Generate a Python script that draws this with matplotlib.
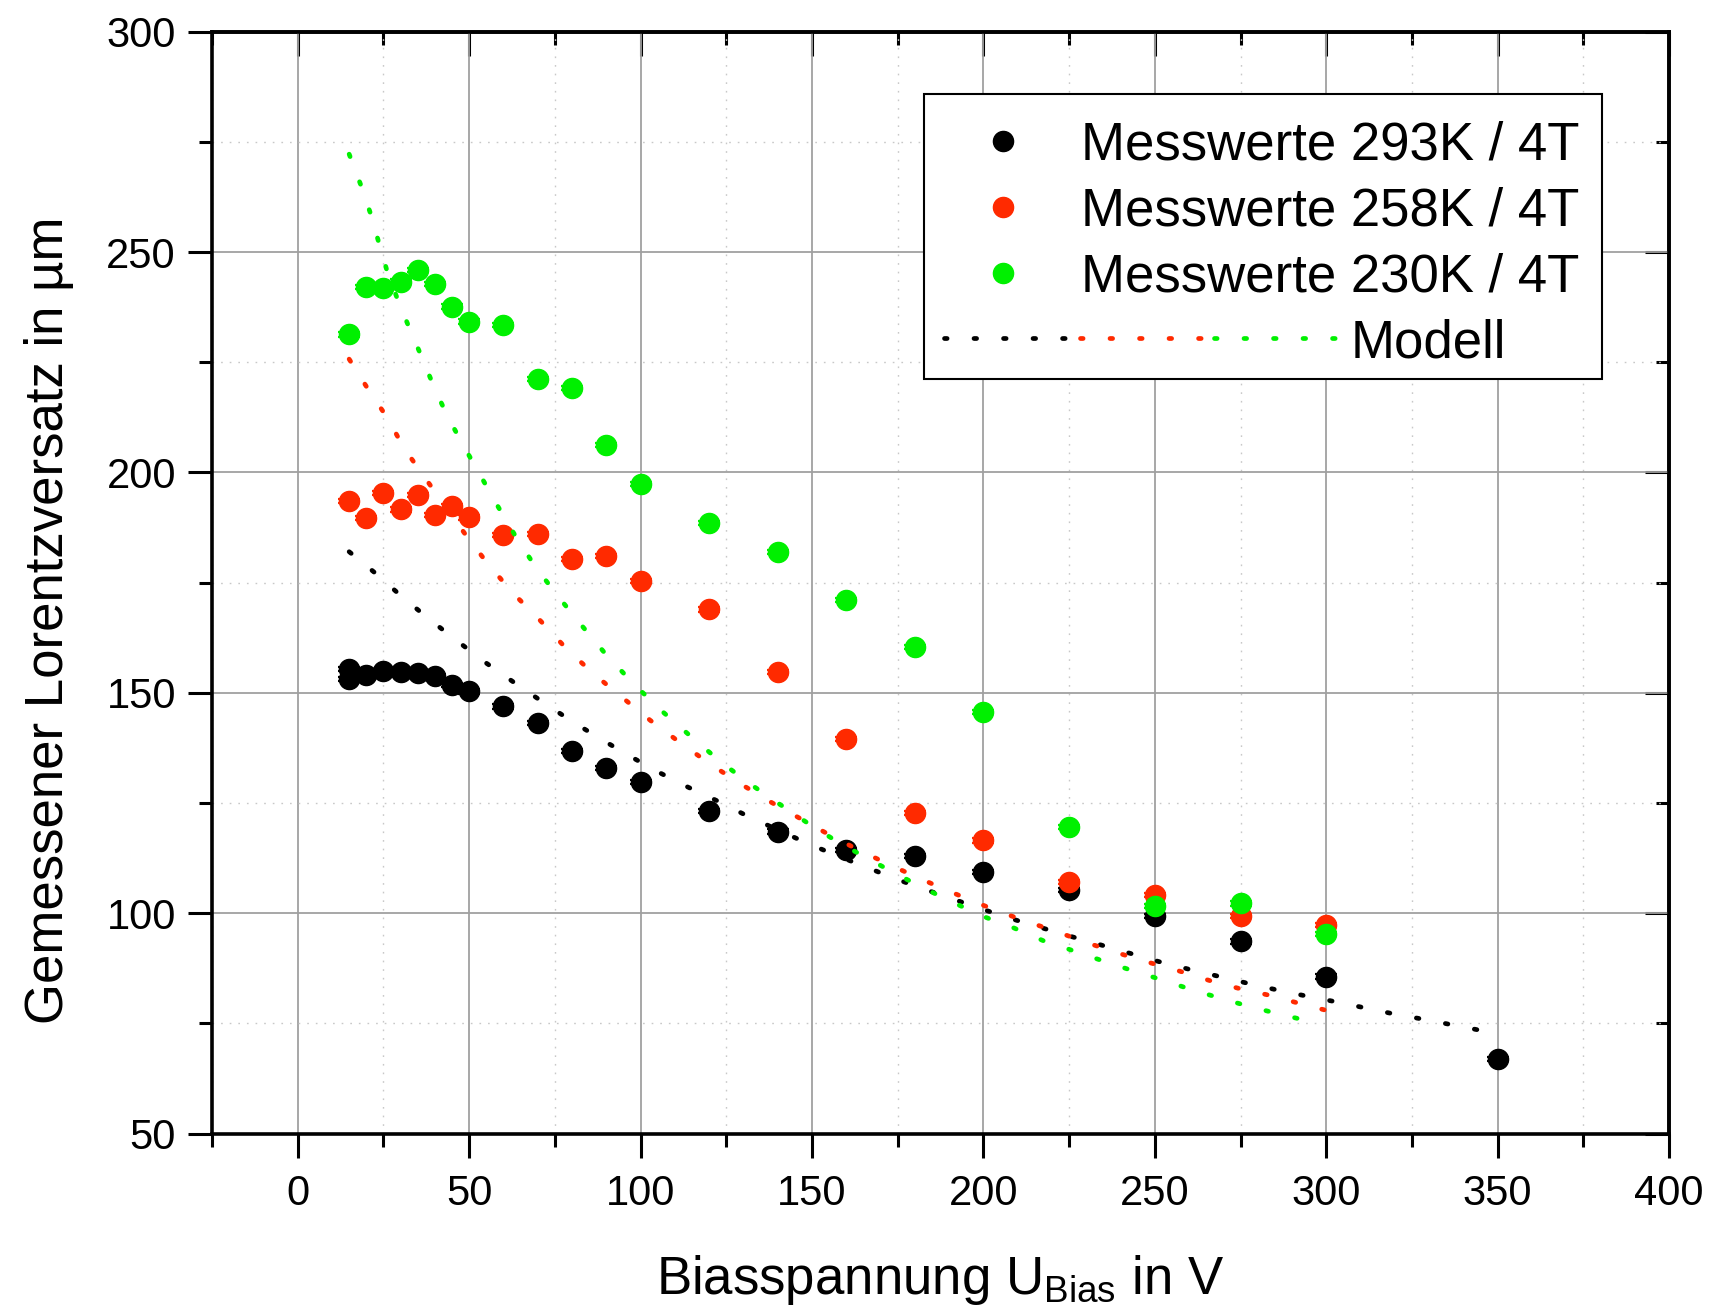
import matplotlib
matplotlib.use("Agg")
import matplotlib.pyplot as plt
from matplotlib.patches import Rectangle
from matplotlib.ticker import MultipleLocator, NullFormatter

plt.rcParams["font.family"] = ["Liberation Sans", "DejaVu Sans"]
plt.rcParams["mathtext.fontset"] = "custom"
plt.rcParams["mathtext.rm"] = "Liberation Sans"
plt.rcParams["mathtext.it"] = "Liberation Sans:italic"

BLACK, RED, GREEN = "#000000", "#ff2a00", "#00f000"

# measured Lorentz displacement (um) vs bias voltage (V)
u_293 = [15, 15, 20, 25, 30, 35, 40, 45, 50, 60, 70, 80, 90, 100, 120, 140, 160, 180, 200, 225, 250, 275, 300, 350]
d_293 = [155.4, 153.1, 154.0, 155.0, 154.7, 154.4, 153.7, 151.8, 150.3, 146.9, 143.1, 136.8, 132.9, 129.8,
         123.2, 118.5, 114.3, 113.0, 109.3, 105.3, 99.4, 93.6, 85.6, 66.9]

u_258 = [15, 20, 25, 30, 35, 40, 45, 50, 60, 70, 80, 90, 100, 120, 140, 160, 180, 200, 225, 250, 275, 300]
d_258 = [193.5, 189.7, 195.3, 191.6, 194.9, 190.3, 192.4, 189.8, 185.8, 186.0, 180.4, 181.0, 175.4, 168.9,
         154.7, 139.5, 122.7, 116.5, 107.1, 104.1, 99.4, 97.3]

u_230 = [15, 20, 25, 30, 35, 40, 45, 50, 60, 70, 80, 90, 100, 120, 140, 160, 180, 200, 225, 250, 275, 300]
d_230 = [231.3, 242.0, 241.8, 243.3, 245.9, 242.8, 237.6, 234.2, 233.5, 221.2, 219.2, 206.2, 197.3, 188.5,
         182.0, 171.0, 160.4, 145.6, 119.6, 101.6, 102.2, 95.3]

YERR = 0.5

# model curves
mu_293 = [15, 22.7, 30.4, 38.2, 46.1, 54.5, 62.8, 71.3, 79.8, 88.0, 96.7, 105.2, 113.8, 122.3, 131.0, 148.2,
          156.8, 165.3, 174.0, 182.5, 191.1, 199.7, 208.3, 216.9, 225.6, 234.2, 242.7, 251.2, 259.8, 268.4,
          277.0, 285.5, 294.1, 302.7, 311.3, 319.9, 328.5, 337.1, 345.7]
md_293 = [182.0, 177.1, 171.8, 166.8, 162.0, 157.0, 152.5, 148.0, 143.6, 139.7, 135.7, 132.0, 128.6, 125.5,
          122.1, 116.0, 113.2, 110.6, 107.9, 105.5, 103.2, 100.9, 98.7, 96.7, 94.7, 92.8, 90.9, 89.0, 87.3,
          85.7, 84.1, 82.6, 81.2, 79.9, 78.5, 77.1, 75.9, 74.6, 73.3]

mu_258 = [15, 20.5, 26.2, 31.0, 37.0, 49.2, 55.5, 62.8, 70.6, 78.5, 86.3, 94.4, 102.9, 111.5, 120.0, 128.6,
          137.3, 145.8, 154.3, 162.9, 171.5, 180.2, 188.7, 197.3, 205.8, 214.6, 223.1, 231.7, 240.3, 248.8,
          257.4, 266.0, 274.6, 283.2, 291.8, 300.2]
md_258 = [225.7, 218.9, 212.3, 205.5, 198.9, 185.6, 179.2, 172.6, 166.5, 159.9, 154.3, 149.1, 143.7, 138.7,
          134.0, 129.6, 125.5, 121.8, 118.1, 114.6, 111.4, 108.3, 105.4, 102.6, 100.0, 97.6, 95.3, 92.9,
          90.7, 88.7, 86.8, 84.7, 82.9, 81.4, 79.6, 77.9]

mu_230 = [15, 18.3, 21.2, 23.7, 26.2, 29.4, 32.9, 36.6, 40.1, 44.1, 48.9, 53.8, 58.6, 63.7, 69.4, 75.9, 82.9,
          90.0, 98.0, 106.0, 114.5, 123.1, 131.6, 140.4, 149.0, 157.4, 166.0, 174.8, 183.3, 191.8, 200.5,
          209.0, 217.6, 226.1, 234.7, 243.3, 251.9, 260.5, 269.1, 277.7, 286.3, 294.9]
md_230 = [272.2, 265.4, 258.8, 252.0, 245.3, 238.7, 232.1, 225.4, 218.7, 212.1, 205.3, 198.6, 192.0, 185.3,
          178.5, 171.9, 165.2, 158.6, 152.0, 146.0, 140.2, 134.5, 129.5, 124.8, 120.3, 116.2, 112.5, 108.8,
          105.4, 102.2, 99.1, 96.6, 93.7, 91.5, 89.2, 87.0, 84.9, 82.7, 80.7, 78.8, 77.1, 75.5]

labels = ["Messwerte 293K / 4T", "Messwerte 258K / 4T", "Messwerte 230K / 4T"]

DOTS = dict(ls=(0, (0.55, 5.7)), lw=3.4, dash_capstyle="round", solid_capstyle="round")
MS = 14.5

fig = plt.figure(figsize=(17.14, 13.13), dpi=100)
ax = fig.add_axes([0.1237, 0.1367, 0.8501, 0.8392])

for (u, d, c) in [(u_293, d_293, BLACK), (u_258, d_258, RED), (u_230, d_230, GREEN)]:
    ax.errorbar(u, d, yerr=YERR, fmt="o", ms=MS, color=c, mec=c, capsize=8, capthick=1.6,
                elinewidth=1.6, zorder=3)
for (u, d, c) in [(mu_293, md_293, BLACK), (mu_258, md_258, RED), (mu_230, md_230, GREEN)]:
    ax.plot(u, d, color=c, zorder=4, **DOTS)

ax.set_xlim(-25, 400)
ax.set_ylim(50, 300)
ax.xaxis.set_major_locator(MultipleLocator(50))
ax.xaxis.set_minor_locator(MultipleLocator(25))
ax.yaxis.set_major_locator(MultipleLocator(50))
ax.yaxis.set_minor_locator(MultipleLocator(25))

ax.grid(True, which="major", color="#a0a0a0", lw=1.3, zorder=0)
ax.grid(True, which="minor", color="#c8c8c8", lw=1.0, ls=(0, (1.2, 5)), zorder=0)
ax.set_axisbelow(True)

for s in ax.spines.values():
    s.set_linewidth(2.6)
ax.tick_params(which="both", direction="out", width=2.2, labelsize=30, top=False, right=False)
ax.tick_params(which="major", length=17)
ax.tick_params(which="minor", length=9.5)
ax.tick_params(axis="x", pad=12)
ax.tick_params(axis="y", pad=9)

# inward ticks on top and right, no labels
for sec, axis in [(ax.secondary_xaxis("top"), "x"), (ax.secondary_yaxis("right"), "y")]:
    a = sec.xaxis if axis == "x" else sec.yaxis
    a.set_major_locator(MultipleLocator(50))
    a.set_minor_locator(MultipleLocator(25))
    a.set_major_formatter(NullFormatter())
    sec.spines[:].set_linewidth(2.6)
    sec.tick_params(which="both", direction="in", width=2.2)
    sec.tick_params(which="major", length=17)
    sec.tick_params(which="minor", length=9.5)

ax.set_xlabel(r"Biasspannung U$_{\mathrm{Bias}}$ in V", fontsize=38)
ax.set_ylabel("Gemessener Lorentzversatz in µm", fontsize=38)
ax.xaxis.set_label_coords(0.5, -0.108)
ax.yaxis.set_label_coords(-0.095, 0.466)

# legend (Origin-style, drawn by hand)
tr = ax.transAxes
ax.add_patch(Rectangle((0.4889, 0.6845), 0.4648, 0.259, transform=tr, facecolor="white",
                       edgecolor="black", lw=1.5, zorder=10))
rows = [0.9008, 0.8412, 0.7813, 0.7218]
for y, lab, c in zip(rows, labels, [BLACK, RED, GREEN]):
    ax.plot([0.5431], [y], "o", ms=MS, color=c, transform=tr, zorder=11, clip_on=False)
    ax.text(0.5961, y - 0.0172, lab, fontsize=38, transform=tr, va="baseline", ha="left", zorder=11)
for (x0, x1), c in zip([(0.5027, 0.5860), (0.5955, 0.6790), (0.6880, 0.7720)], [BLACK, RED, GREEN]):
    ax.plot([x0, x1], [rows[3], rows[3]], color=c, transform=tr, zorder=11, clip_on=False, **DOTS)
ax.text(0.7815, rows[3] - 0.0172, "Modell", fontsize=38, transform=tr, va="baseline", ha="left", zorder=11)

fig.savefig("out.png", dpi=100)
